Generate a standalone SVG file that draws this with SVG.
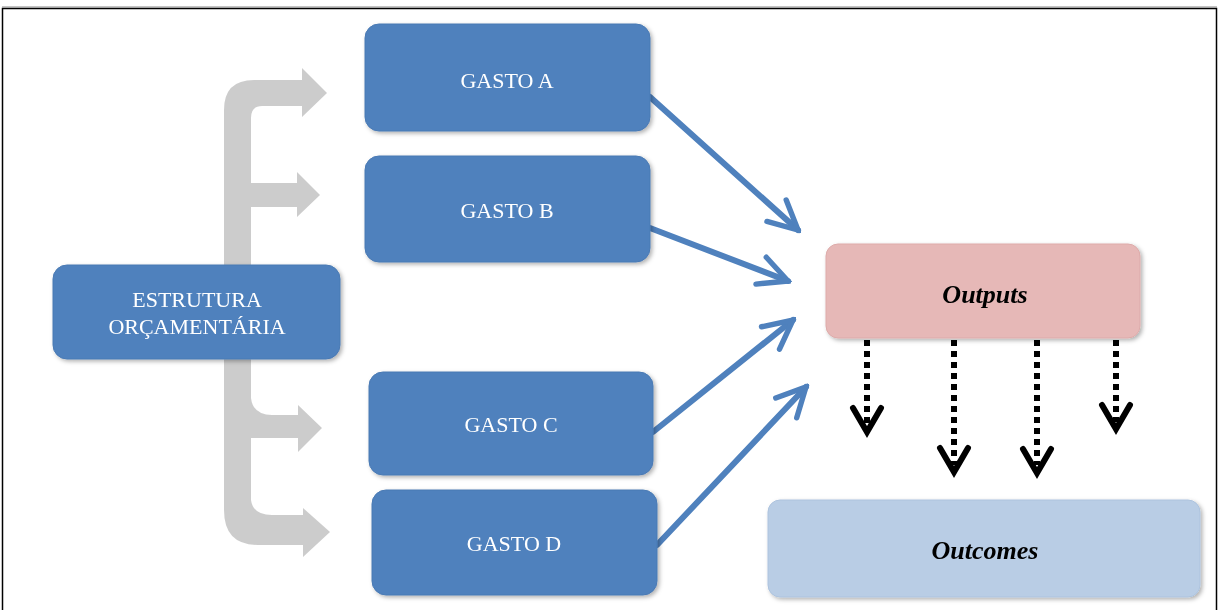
<svg xmlns="http://www.w3.org/2000/svg" width="1219" height="610" viewBox="0 0 1219 610">
<style>
.box{fill:#4f81bd;stroke:#4a7ab4;stroke-width:1}
.lbl{font-family:"Liberation Serif","Times New Roman",serif;font-size:22px;fill:#ffffff;text-anchor:middle}
.it{font-family:"Liberation Serif","Times New Roman",serif;font-size:26px;font-weight:bold;font-style:italic;fill:#000000;text-anchor:middle}
.blue{stroke:#4f81bd;stroke-width:6;fill:none;stroke-linecap:round}
.dot{stroke:#000;stroke-width:6;stroke-dasharray:6 5;fill:none}
.chev{stroke:#000;stroke-width:6;fill:none;stroke-linecap:round;stroke-linejoin:miter}
.grey{fill:#c9c9c9}
</style>
<defs>
<filter id="sh" x="-10%" y="-10%" width="130%" height="130%">
<feDropShadow dx="2" dy="2" stdDeviation="2" flood-color="#000" flood-opacity="0.3"/>
</filter>
<marker id="ba" viewBox="0 0 10 10" refX="9" refY="5" markerWidth="6" markerHeight="6" orient="auto" markerUnits="strokeWidth">
<path d="M1,1 L9,5 L1,9" fill="none" stroke="#4f81bd" stroke-width="1.5" stroke-linecap="round"/>
</marker>
</defs>
<rect x="0" y="0" width="1219" height="610" fill="#ffffff"/>
<path d="M2.5,610 V8.5 H1216.5 V610" fill="none" stroke="#000" stroke-width="1.5"/>
<line x1="2" y1="7" x2="1217" y2="7" stroke="#888" stroke-width="1"/>

<g id="grey-arrows" opacity="0.95">
<path class="grey" d="M224,510 V110 Q224,80 254,80 H302 V68 L327,93 L302,117 V106 H262 Q251,106 251,118 V183 H297 V172 L320,195 L297,217 V207 H251 V398 Q253,415 272,415 H298 V405 L322,428 L298,452 V438 H251 V500 Q253,515 272,515 H303 V508 L330,532 L303,557 V545 H258 Q224,545 224,510 Z"/>
</g>

<g id="connectors">
<line class="blue" x1="650" y1="97" x2="798" y2="230" marker-end="url(#ba)"/>
<line class="blue" x1="650" y1="228" x2="788" y2="281" marker-end="url(#ba)"/>
<line class="blue" x1="653" y1="432" x2="793" y2="320" marker-end="url(#ba)"/>
<line class="blue" x1="657" y1="545" x2="806" y2="387" marker-end="url(#ba)"/>
<g id="dotted">
<line class="dot" x1="867" y1="340" x2="867" y2="425"/>
<polyline class="chev" points="853,408 867,432 881,408"/>
<line class="dot" x1="954" y1="340" x2="954" y2="465"/>
<polyline class="chev" points="940,448 954,472 968,448"/>
<line class="dot" x1="1037" y1="340" x2="1037" y2="465"/>
<polyline class="chev" points="1023,449 1037,473 1051,449"/>
<line class="dot" x1="1116" y1="340" x2="1116" y2="422"/>
<polyline class="chev" points="1102,405 1116,429 1130,405"/>
</g>
</g>

<g id="gasto-a" filter="url(#sh)">
<rect class="box" x="365" y="24" width="285" height="107" rx="14"/>
<text class="lbl" x="507" y="88">GASTO A</text>
</g>
<g id="gasto-b" filter="url(#sh)">
<rect class="box" x="365" y="156" width="285" height="106" rx="14"/>
<text class="lbl" x="507" y="218">GASTO B</text>
</g>
<g id="estrutura" filter="url(#sh)">
<rect class="box" x="53" y="265" width="287" height="94" rx="14"/>
<text class="lbl" x="197" y="307">ESTRUTURA</text>
<text class="lbl" x="197" y="334">ORÇAMENTÁRIA</text>
</g>
<g id="gasto-c" filter="url(#sh)">
<rect class="box" x="369" y="372" width="284" height="103" rx="14"/>
<text class="lbl" x="511" y="432">GASTO C</text>
</g>
<g id="gasto-d" filter="url(#sh)">
<rect class="box" x="372" y="490" width="285" height="105" rx="14"/>
<text class="lbl" x="514" y="551">GASTO D</text>
</g>
<g id="outputs" filter="url(#sh)">
<rect x="826" y="244" width="314" height="94" rx="12" fill="#e6b8b7" stroke="#ddabaa"/>
<text class="it" x="985" y="303">Outputs</text>
</g>
<g id="outcomes" filter="url(#sh)">
<rect x="768" y="500" width="432" height="97" rx="12" fill="#b9cde5" stroke="#adc3de"/>
<text class="it" x="985" y="559">Outcomes</text>
</g>
</svg>
